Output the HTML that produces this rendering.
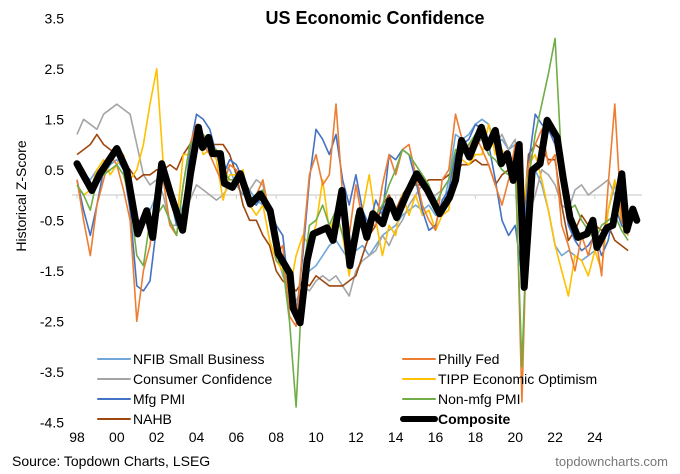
<!DOCTYPE html>
<html><head><meta charset="utf-8"><style>
body{margin:0;background:#fff;}
svg{display:block;font-family:"Liberation Sans",Arial,sans-serif;}
</style></head><body>
<svg id="chart" width="680" height="474" viewBox="0 0 680 474">
<text x="375" y="24" text-anchor="middle" font-size="18" font-weight="bold">US Economic Confidence</text>
<text transform="translate(26,196) rotate(-90)" text-anchor="middle" font-size="14">Historical Z-Score</text>
<g id="yticks"></g><g id="xticks"></g>
<line x1="72" y1="195" x2="642" y2="195" stroke="#d0d0d0" stroke-width="1.2"/>
<g id="series"></g>
<g id="legend"></g>
<text x="12" y="466" font-size="14">Source: Topdown Charts, LSEG</text>
<text x="668" y="466" text-anchor="end" font-size="13" fill="#777">topdowncharts.com</text>
</svg>
<script>
const yTicks=[3.5,2.5,1.5,0.5,-0.5,-1.5,-2.5,-3.5,-4.5];
const xTickLabels=["98","00","02","04","06","08","10","12","14","16","18","20","22","24"];
const xTickYears=[1998,2000,2002,2004,2006,2008,2010,2012,2014,2016,2018,2020,2022,2024];
const gridStart=1998;
const nfib=[.6,.4,.3,.5,.4,.6,.7,.5,.2,-.6,-.4,-.3,0,.3,0,-.5,-.2,.5,1.2,1.0,.9,.8,.6,.5,.2,0,.1,-.1,-.2,-.4,-1.0,-1.4,-1.8,-2.2,-1.8,-1.5,-1.4,-1.2,-1.0,-.9,-1.1,-1.3,-1.1,-1.0,-1.2,-1.0,-.8,-.7,-.6,-.4,-.3,-.2,-.3,-.2,-.4,-.3,.3,1.2,1.1,1.2,1.4,1.5,1.4,1.0,1.1,.9,1.0,-.3,.2,.5,.2,-.3,-1.0,-1.2,-1.1,-1.2,-1.3,-1.2,-1.1,-1.0,-.3,.2,-.2,-.3];
const consumer=[1.2,1.5,1.4,1.3,1.6,1.7,1.8,1.7,1.6,1.0,.4,.2,.3,0,-.6,-.6,-.3,-.1,.2,.1,0,-.1,0,.2,.3,.3,.1,.3,.2,-.4,-1.1,-1.6,-1.9,-2.1,-1.8,-1.9,-1.7,-1.6,-1.7,-1.6,-1.8,-2.0,-1.5,-1.3,-1.2,-1.1,-.8,-1.0,-.7,-.5,-.2,0,.2,0,0,.1,.3,.7,.8,1.0,1.0,1.1,1.1,1.0,1.2,.9,1.1,-.6,-.4,0,.5,.4,.2,-.2,-.3,.1,.2,0,.1,.2,.3,0,-.3,-.2];
const mfg=[.3,-.3,-.8,-.2,.5,.8,.9,.5,-.3,-1.8,-1.9,-1.7,-.6,.5,0,-.6,-.4,.9,1.6,1.5,1.3,.8,.4,.7,.6,.3,-.1,-.2,0,-.3,-.6,-.8,-2.0,-2.4,-1.2,.3,1.3,1.1,.8,1.2,.3,-.2,.4,-.3,-.6,-.1,-.4,.8,.7,.9,.8,.3,-.3,-.7,-.6,-.1,.1,.8,1.0,1.1,1.4,1.3,1.0,.3,-.5,-.8,-.6,-1.6,.6,1.6,1.4,1.3,1.0,.3,-.6,-.9,-1.1,-1.0,-.8,-1.2,-.9,-.2,-.6,-.7];
const nahb=[.8,.9,1.0,1.2,1.0,.9,.8,.6,.5,.3,.4,.4,.5,.5,.6,.5,.8,1.0,1.0,1.1,1.0,1.0,1.0,.8,.4,-.2,-.5,-.5,-.8,-1.0,-1.5,-1.7,-1.8,-1.9,-1.7,-1.8,-1.6,-1.7,-1.8,-1.8,-1.8,-1.7,-1.6,-1.2,-.8,-.6,-.2,0,-.3,0,.2,.2,.2,.3,.3,.3,.4,.5,.6,.6,.7,.6,.6,.2,.4,.5,.6,-.8,.8,1.0,.9,.7,.7,-.2,-.9,-.7,-.4,-.6,-.6,-.7,-.6,-.9,-1.0,-1.1];
const philly=[.3,-.5,-1.2,-.2,.3,.8,.6,.1,-.5,-2.5,-1.5,-1.0,.1,.3,-.6,-.8,.2,1.0,1.4,1.0,.8,.5,.2,.6,.5,.2,-.2,0,.3,-.4,-1.2,-1.0,-2.4,-2.6,-1.0,.4,.8,.2,.4,1.8,0,-.8,.2,-.5,-.6,-.6,.2,.8,.4,.9,1.0,.4,-.2,-.5,-.7,.3,.5,1.6,1.1,.9,1.2,.9,.6,.2,-.2,.3,1.0,-4.1,.6,1.0,1.3,.6,.8,-.6,-1.0,-1.5,-.8,-1.2,-.7,-1.6,.2,1.8,-.5,-.8];
const tipp=[.2,0,.1,.5,.7,.4,.6,.8,.3,.5,1.0,1.8,2.5,.6,0,-.6,.8,.8,1.3,.8,.9,.7,-.1,.4,.4,.5,-.2,-.4,-.2,-.9,-1.3,-1.5,-1.9,-1.2,-.8,-1.0,-.6,.3,-.7,-.4,-.8,-1.6,-.6,-.3,.4,-.5,-1.2,-.6,-.8,0,-.4,0,-.4,-.3,-.7,-.4,-.3,.8,.7,.6,.8,.8,1.4,.8,.9,.6,.4,-.5,.6,.8,.3,-.3,-1.0,-1.5,-2.0,-1.2,-1.3,-1.6,-1.1,-1.5,-.3,.3,-.6,-.8];
const nonmfg=[.2,0,-.3,.3,.4,.5,.6,.4,-.1,-1.2,-1.4,-.5,-.4,-.2,-.5,-.8,.2,1.0,1.1,1.2,1.0,.9,.5,.3,.3,.2,-.2,0,.1,-.4,-1.3,-1.4,-2.5,-4.2,-1.6,-.6,-.5,-.2,-.6,-.3,-.8,-1.2,-.4,-.6,-.8,-.4,-.2,.2,.5,.9,.8,.6,.4,.2,-.2,.1,.3,.9,.8,1.0,1.2,1.1,.8,.7,.5,.4,.6,-3.4,.3,1.2,1.8,2.4,3.1,.6,-.3,-.2,-.5,-.7,-.9,-.6,-.5,-.4,-.7,-.9];
const compYears=[1998.0,1998.75,1999.15,2000.0,2000.5,2001.05,2001.5,2001.8,2002.25,2002.7,2003.3,2003.7,2004.1,2004.3,2004.6,2004.8,2005.2,2005.4,2005.8,2006.2,2006.7,2007.2,2007.7,2008.1,2008.7,2008.85,2009.2,2009.55,2009.85,2010.55,2010.85,2011.3,2011.7,2012.2,2012.55,2012.85,2013.35,2013.7,2014.05,2014.55,2015.05,2015.6,2016.2,2016.7,2017.0,2017.3,2017.7,2018.3,2018.6,2019.0,2019.3,2019.6,2019.9,2020.2,2020.45,2020.85,2021.25,2021.6,2022.1,2022.4,2022.75,2023.15,2023.6,2023.9,2024.1,2024.6,2024.9,2025.35,2025.6,2025.9,2026.1];
const composite=[.62,.09,.42,.92,.49,-.77,-.31,-.84,.62,.02,-.7,.42,1.34,.94,1.14,.82,.82,.23,.15,.42,-.18,.02,-.31,-1.16,-1.56,-2.24,-2.53,-1.3,-.77,-.65,-.9,.09,-1.4,-.31,-.84,-.37,-.57,-.11,-.45,.02,.42,.09,-.37,-.05,.29,1.08,.75,1.34,.94,1.28,.62,.82,.29,1.0,-1.83,.49,.62,1.48,1.14,.36,-.45,-.84,-.77,-.5,-1.04,-.65,-.6,.42,-.7,-.28,-.5];

const NS="http://www.w3.org/2000/svg";
const xs=y=>77+(y-1998)*19.92;
const ys=v=>195-v*50.5;
function el(t,a,p){const e=document.createElementNS(NS,t);for(const k in a)e.setAttribute(k,a[k]);p.appendChild(e);return e;}
const yt=document.getElementById('yticks');
yTicks.forEach(v=>{const t=el('text',{x:64,y:ys(v)+5,'text-anchor':'end','font-size':14},yt);


t.textContent=v.toFixed(1);});
const xt=document.getElementById('xticks');
xTickLabels.forEach((l,i)=>{const t=el('text',{x:xs(xTickYears[i]),y:442,'text-anchor':'middle','font-size':14},xt);


t.textContent=l;
const tk=el('line',{x1:xs(xTickYears[i]),x2:xs(xTickYears[i]),y1:195,y2:199,stroke:'#d0d0d0'},xt);

});
const sg=document.getElementById('series');
function gridPath(arr){return arr.map((v,i)=>(i?'L':'M')+xs(gridStart+i/3).toFixed(1)+','+ys(v).toFixed(1)).join('');}
const thin=[['nfib',nfib,'#6fa8d8'],['consumer-confidence',consumer,'#a5a5a5'],['nahb',nahb,'#9e480e'],['tipp',tipp,'#ffc000'],['mfg-pmi',mfg,'#4472c4'],['philly-fed',philly,'#ed7d31'],['non-mfg-pmi',nonmfg,'#70ad47']];
thin.forEach(s=>{const p=el('path',{d:gridPath(s[1]),fill:'none',stroke:s[2],'stroke-width':1.6,'stroke-linejoin':'round'},sg);

});
const cp=el('path',{d:composite.map((v,i)=>(i?'L':'M')+xs(compYears[i]).toFixed(1)+','+ys(v).toFixed(1)).join(''),fill:'none',stroke:'#000','stroke-width':7,'stroke-linejoin':'round','stroke-linecap':'round'},sg);


const lg=document.getElementById('legend');
const items=[['NFIB Small Business','#6fa8d8',98,359,2],['Consumer Confidence','#a5a5a5',98,379,2],['Mfg PMI','#4472c4',98,399,2],['NAHB','#9e480e',98,419,2],['Philly Fed','#ed7d31',403,359,2],['TIPP Economic Optimism','#ffc000',403,379,2],['Non-mfg PMI','#70ad47',403,399,2],['Composite','#000',403,419,6]];
items.forEach(it=>{const g=el('g',{},lg);


el('line',{x1:it[2],x2:it[2]+32,y1:it[3],y2:it[3],stroke:it[1],'stroke-width':it[4],'stroke-linecap':'round'},g);
const t=el('text',{x:it[2]+35,y:it[3]+5,'font-size':14,'font-weight':it[0]==='Composite'?'bold':'normal'},g);
t.textContent=it[0];});
</script>
</body></html>
